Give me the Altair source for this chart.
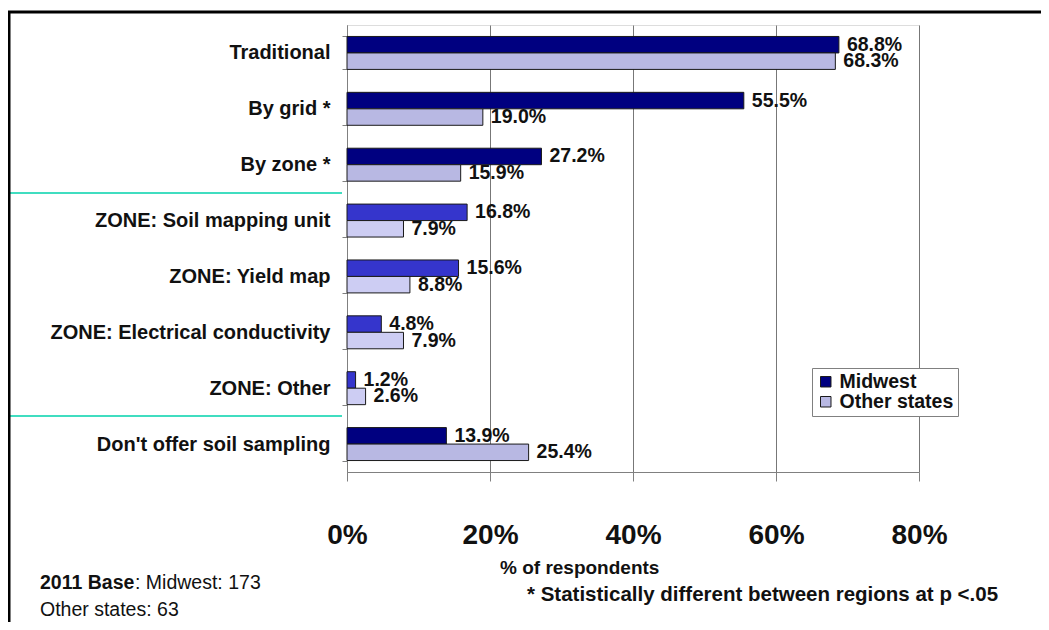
import altair as alt
import pandas as pd

categories = [
    "Traditional",
    "By grid *",
    "By zone *",
    "ZONE: Soil mapping unit",
    "ZONE: Yield map",
    "ZONE: Electrical conductivity",
    "ZONE: Other",
    "Don't offer soil sampling",
]
midwest = [68.8, 55.5, 27.2, 16.8, 15.6, 4.8, 1.2, 13.9]
other_states = [68.3, 19.0, 15.9, 7.9, 8.8, 7.9, 2.6, 25.4]
is_zone = [False, False, False, True, True, True, True, False]
series_names = ["Midwest", "Other states"]
x_ticks = [0, 20, 40, 60, 80]

NAVY = "#000080"
CHECK = "#B8B8E3"
ZONE_MID = "#3535CC"
ZONE_OTH = "#CDCDF3"
FONT = "Liberation Sans"

rows = []
for c, m, o, z in zip(categories, midwest, other_states, is_zone):
    rows.append(dict(category=c, series="Midwest", value=m, label=f"{m:.1f}%",
                     zone=z, fill=ZONE_MID if z else NAVY))
    rows.append(dict(category=c, series="Other states", value=o, label=f"{o:.1f}%",
                     zone=z, fill=ZONE_OTH if z else CHECK))
df = pd.DataFrame(rows)
dummy = pd.DataFrame({"k": [0]})

base = alt.Chart(df).encode(
    y=alt.Y("category:N", sort=categories,
            scale=alt.Scale(paddingInner=0.41, paddingOuter=0.205),
            axis=alt.Axis(title=None, grid=False, tickBand="extent", tickSize=5,
                          tickColor="#808080", domainColor="#808080",
                          labelFontSize=20, labelFontWeight="bold", labelColor="#111111",
                          labelPadding=12, labelLimit=400, labelFont=FONT)),
    yOffset=alt.YOffset("series:N", sort=series_names),
    x=alt.X("value:Q", scale=alt.Scale(domain=[0, 80], nice=False),
            axis=alt.Axis(title=None, values=x_ticks, labelExpr="datum.value + '%'",
                          grid=True, gridColor="#777777", gridWidth=1,
                          tickSize=9, tickColor="#808080", domainColor="#808080",
                          labelFontSize=28, labelFontWeight="bold", labelColor="#111111",
                          labelPadding=40, labelFlush=False, labelFont=FONT)),
)

bars_main = base.transform_filter("!datum.zone").mark_bar(
    stroke="#1a1a1a", strokeWidth=1
).encode(
    color=alt.Color("series:N",
                    scale=alt.Scale(domain=series_names, range=[NAVY, CHECK]),
                    legend=alt.Legend(title=None, orient="none", legendX=465, legendY=343,
                                      fillColor="white", strokeColor="#808080",
                                      padding=4, symbolType="square", symbolSize=110,
                                      symbolStrokeColor="#1a1a1a", symbolStrokeWidth=1,
                                      labelFontSize=19.5, labelFontWeight="bold",
                                      labelColor="#111111", labelFont=FONT,
                                      rowPadding=-4, labelOffset=4, labelLimit=300))
)

bars_zone = base.transform_filter("datum.zone").mark_bar(
    stroke="#1a1a1a", strokeWidth=1
).encode(fill=alt.Fill("fill:N", scale=None))

labels = base.mark_text(align="left", baseline="middle", dx=8, fontSize=19.5,
                        fontWeight="bold", color="#111111", font=FONT).encode(
    text="label:N")

def hrule(x1, x2, y, color, w):
    return alt.Chart(dummy).mark_rule(color=color, strokeWidth=w).encode(
        x=alt.value(x1), x2=alt.value(x2), y=alt.value(y))

def vrule(x, y1, y2, color, w):
    return alt.Chart(dummy).mark_rule(color=color, strokeWidth=w).encode(
        x=alt.value(x), y=alt.value(y1), y2=alt.value(y2))

def note(x, y, txt, size, weight="normal"):
    return alt.Chart(dummy).mark_text(align="left", baseline="middle", fontSize=size,
                                      fontWeight=weight, color="#111111", font=FONT).encode(
        x=alt.value(x), y=alt.value(y), text=alt.value(txt))

teal1 = hrule(-337, -5, 168, "#40DDC0", 2)
teal2 = hrule(-337, -5, 391, "#40DDC0", 2)
frame_top = hrule(-339, 694, -13, "#000000", 3)
frame_left = vrule(-338, -13, 600, "#000000", 3)

t_axis = note(153, 543, "% of respondents", 19, "bold")
t_foot = note(180, 570, "* Statistically different between regions at p <.05", 20.5, "bold")
t_base_b = note(-307, 558, "2011 Base", 19.5, "bold")
t_base_n = note(-212, 558, ": Midwest: 173", 19.5)
t_other = note(-307, 585, "Other states: 63", 19.5)

chart = alt.layer(
    bars_main, bars_zone, labels, teal1, teal2, frame_top, frame_left,
    t_axis, t_foot, t_base_b, t_base_n, t_other
).properties(
    width=572, height=447,
    autosize=alt.AutoSizeParams(type="none"),
    padding={"left": 339, "top": 17, "right": 122, "bottom": 150},
    background="white",
).configure_view(stroke=None).configure(font=FONT)

chart.save("out.html", embed_options={"renderer": "svg", "actions": False})
